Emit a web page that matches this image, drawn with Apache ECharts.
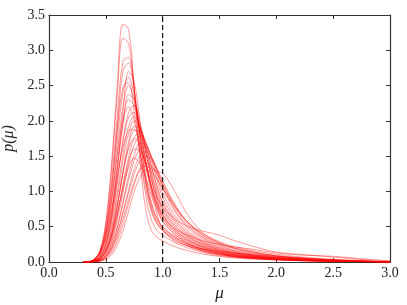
<!DOCTYPE html>
<html><head><meta charset="utf-8">
<script src="https://cdn.jsdelivr.net/npm/echarts@6/dist/echarts.min.js"></script>
<style>html,body{margin:0;padding:0;background:#fff}#c{width:407px;height:305px}</style>
</head><body><div id="c"></div>
<script>
// shared mu grid for all curves
const muGrid = [0.30,0.35,0.40,0.45,0.50,0.55,0.60,0.65,0.70,0.75,0.80,0.85,0.90,0.95,1.00,1.10,1.20,1.30,1.40,1.50,1.60,1.80,2.00,2.20,2.50,2.80,3.00];
const c01 = [0,0.005,0.04,0.17,0.57,1.39,2.50,3.37,3.30,2.45,1.45,0.75,0.45,0.35,0.30,0.22,0.17,0.13,0.10,0.08,0.06,0.04,0.03,0.02,0.01,0.005,0];
const c02 = [0,0.005,0.04,0.16,0.53,1.30,2.35,3.17,3.10,2.45,1.60,0.95,0.60,0.45,0.38,0.28,0.21,0.16,0.12,0.09,0.07,0.05,0.03,0.02,0.01,0.005,0];
const c03 = [0,0.005,0.04,0.16,0.48,1.14,2.05,2.84,2.90,2.46,1.77,1.15,0.75,0.55,0.45,0.33,0.24,0.18,0.13,0.10,0.08,0.05,0.03,0.02,0.01,0.005,0];
const c04 = [0,0.003,0.03,0.13,0.42,1.02,1.90,2.70,2.82,2.42,1.78,1.18,0.78,0.58,0.47,0.35,0.26,0.19,0.14,0.11,0.08,0.05,0.035,0.02,0.01,0.005,0];
const c05 = [0,0.003,0.03,0.12,0.38,0.92,1.70,2.40,2.62,2.35,1.80,1.25,0.85,0.62,0.50,0.37,0.27,0.20,0.15,0.12,0.09,0.06,0.04,0.025,0.012,0.005,0];
const c06 = [0,0.003,0.02,0.07,0.24,0.64,1.32,2.13,2.70,2.55,2.00,1.45,1.02,0.75,0.58,0.40,0.29,0.21,0.16,0.12,0.09,0.06,0.04,0.025,0.012,0.005,0];
const c07 = [0,0.005,0.03,0.11,0.34,0.82,1.55,2.20,2.50,2.30,1.85,1.38,1.00,0.75,0.58,0.40,0.29,0.21,0.16,0.12,0.09,0.06,0.04,0.025,0.012,0.005,0];
const c08 = [0,0.002,0.02,0.08,0.26,0.66,1.30,1.95,2.37,2.30,1.92,1.45,1.06,0.80,0.62,0.43,0.31,0.23,0.17,0.13,0.10,0.065,0.045,0.03,0.015,0.006,0];
const c09 = [0,0.004,0.03,0.10,0.30,0.72,1.35,1.95,2.30,2.22,1.85,1.42,1.06,0.80,0.63,0.44,0.32,0.24,0.18,0.14,0.10,0.07,0.045,0.03,0.015,0.006,0];
const c10 = [0,0.002,0.02,0.07,0.22,0.56,1.12,1.72,2.12,2.22,1.98,1.58,1.18,0.88,0.68,0.47,0.34,0.25,0.19,0.14,0.11,0.07,0.05,0.03,0.015,0.006,0];
const c11 = [0,0.003,0.02,0.08,0.25,0.60,1.15,1.70,2.05,2.12,1.92,1.56,1.20,0.92,0.72,0.50,0.36,0.27,0.20,0.15,0.11,0.075,0.05,0.03,0.015,0.006,0];
const c12 = [0,0.002,0.015,0.06,0.19,0.48,0.98,1.52,1.92,2.06,1.92,1.60,1.25,0.96,0.75,0.52,0.38,0.28,0.21,0.16,0.12,0.08,0.055,0.035,0.018,0.007,0];
const c13 = [0,0.002,0.015,0.055,0.17,0.44,0.90,1.42,1.82,2.00,1.90,1.62,1.28,1.00,0.78,0.54,0.39,0.29,0.22,0.17,0.13,0.085,0.055,0.035,0.018,0.007,0];
const c14 = [0,0.001,0.01,0.045,0.14,0.37,0.78,1.28,1.70,1.92,1.90,1.68,1.36,1.06,0.83,0.57,0.41,0.30,0.23,0.17,0.13,0.085,0.055,0.035,0.018,0.007,0];
const c15 = [0,0.002,0.012,0.05,0.15,0.38,0.78,1.25,1.64,1.86,1.86,1.66,1.36,1.08,0.86,0.60,0.43,0.32,0.24,0.18,0.14,0.09,0.06,0.04,0.02,0.008,0];
const c16 = [0,0.001,0.008,0.035,0.11,0.30,0.64,1.08,1.48,1.76,1.84,1.70,1.44,1.16,0.92,0.63,0.45,0.33,0.25,0.19,0.14,0.09,0.06,0.04,0.02,0.008,0];
const c17 = [0,0.001,0.008,0.03,0.10,0.27,0.58,0.98,1.38,1.66,1.78,1.70,1.48,1.22,0.98,0.68,0.48,0.35,0.26,0.20,0.15,0.10,0.065,0.04,0.02,0.008,0];
const c18 = [0,0.001,0.006,0.025,0.08,0.22,0.48,0.85,1.22,1.52,1.68,1.66,1.50,1.28,1.05,0.74,0.52,0.38,0.28,0.21,0.16,0.10,0.07,0.045,0.022,0.009,0];
const c19 = [0,0.001,0.007,0.028,0.09,0.23,0.48,0.82,1.16,1.44,1.60,1.62,1.50,1.30,1.08,0.76,0.54,0.40,0.30,0.23,0.17,0.11,0.075,0.05,0.025,0.01,0];
const c20 = [0,0.001,0.005,0.02,0.07,0.18,0.40,0.70,1.02,1.32,1.50,1.56,1.48,1.32,1.12,0.80,0.57,0.42,0.31,0.24,0.18,0.12,0.08,0.05,0.025,0.01,0];
const c21 = [0,0.001,0.006,0.024,0.075,0.19,0.40,0.68,0.98,1.25,1.43,1.50,1.45,1.32,1.15,0.84,0.60,0.44,0.33,0.26,0.20,0.13,0.085,0.055,0.03,0.012,0];
const c22 = [0,0.002,0.012,0.05,0.15,0.36,0.68,1.04,1.34,1.47,1.40,1.20,0.95,0.68,0.46,0.30,0.24,0.20,0.17,0.15,0.13,0.10,0.08,0.06,0.03,0.012,0];
const c23 = [0,0.001,0.004,0.018,0.06,0.16,0.34,0.60,0.88,1.14,1.32,1.40,1.36,1.25,1.10,0.82,0.60,0.45,0.34,0.27,0.21,0.14,0.09,0.06,0.03,0.012,0];
const c24 = [0,0.001,0.004,0.015,0.05,0.13,0.29,0.53,0.82,1.10,1.30,1.36,1.32,1.28,1.26,1.02,0.72,0.50,0.36,0.27,0.21,0.14,0.09,0.06,0.03,0.012,0];
const c25 = [0,0,0.002,0.01,0.035,0.10,0.23,0.44,0.72,1.00,1.20,1.30,1.28,1.18,1.04,0.80,0.60,0.46,0.36,0.29,0.23,0.16,0.11,0.075,0.04,0.015,0];
const c26 = [0,0.002,0.012,0.045,0.14,0.34,0.68,1.08,1.42,1.60,1.58,1.40,1.15,0.92,0.78,0.62,0.52,0.46,0.42,0.38,0.32,0.22,0.14,0.11,0.07,0.03,0.01];
const c27 = [0,0.002,0.015,0.05,0.16,0.40,0.80,1.25,1.60,1.75,1.65,1.38,1.08,0.84,0.66,0.48,0.39,0.33,0.28,0.25,0.22,0.18,0.13,0.10,0.08,0.04,0.015];
const c28 = [0,0.006,0.04,0.14,0.40,0.88,1.50,2.02,2.20,2.00,1.58,1.15,0.82,0.62,0.50,0.36,0.27,0.21,0.16,0.12,0.09,0.06,0.04,0.025,0.012,0.005,0];
const c29 = [0,0.005,0.04,0.15,0.45,1.05,1.85,2.48,2.54,2.12,1.55,1.05,0.72,0.54,0.44,0.32,0.24,0.18,0.14,0.11,0.08,0.05,0.035,0.02,0.01,0.005,0];
const c30 = [0,0.006,0.04,0.13,0.35,0.72,1.20,1.62,1.86,1.88,1.68,1.38,1.08,0.84,0.66,0.46,0.34,0.25,0.19,0.15,0.11,0.075,0.05,0.03,0.015,0.006,0];
const curves = [c01,c02,c03,c04,c05,c06,c07,c08,c09,c10,c11,c12,c13,c14,c15,c16,c17,c18,c19,c20,c21,c22,c23,c24,c25,c26,c27,c28,c29,c30];
const refLineX = 1.0;
const xTicks = [0.0,0.5,1.0,1.5,2.0,2.5,3.0];
const yTicks = [0.0,0.5,1.0,1.5,2.0,2.5,3.0,3.5];

const font = 'Liberation Serif';
const series = curves.map(c => ({
  type: 'line', data: muGrid.map((m,i)=>[m,c[i]]), smooth: 0.35, symbol: 'none',
  lineStyle: {color: 'rgba(255,0,0,0.4)', width: 1}, silent: true, animation: false
}));
series.push({
  type: 'line', data: [[refLineX, 0], [refLineX, yTicks[yTicks.length-1]]], symbol: 'none',
  lineStyle: {color: '#000', width: 1.1, type: [5,3]}, silent: true, animation: false, z: 5
});
const axisLine = {show: true, onZero: false, lineStyle: {color: '#333', width: 1.2}};
const axisTick = {show: true, inside: true, length: 4, lineStyle: {color: '#333'}};
const chart = echarts.init(document.getElementById('c'), null, {renderer: 'canvas'});
chart.setOption({
  animation: false,
  grid: {left: 49, right: 17, top: 15, bottom: 43, containLabel: false, outerBoundsMode: 'none'},
  xAxis: [{
    type: 'value', min: xTicks[0], max: xTicks[xTicks.length-1], interval: 0.5,
    axisLine, axisTick, splitLine: {show: false},
    axisLabel: {fontFamily: font, fontSize: 14, color: '#222', margin: 4, formatter: v => v.toFixed(1)},
    name: 'μ', nameLocation: 'middle', nameGap: 17,
    nameTextStyle: {fontFamily: font, fontStyle: 'italic', fontSize: 17, color: '#222'}
  }, {
    type: 'value', position: 'top', min: 0, max: 3, interval: 0.5,
    axisLine, axisTick, axisLabel: {show: false}, splitLine: {show: false}
  }],
  yAxis: [{
    type: 'value', min: yTicks[0], max: yTicks[yTicks.length-1], interval: 0.5,
    axisLine, axisTick, splitLine: {show: false},
    axisLabel: {fontFamily: font, fontSize: 14, color: '#222', margin: 4, formatter: v => v.toFixed(1)},
    name: 'p(μ)', nameLocation: 'middle', nameGap: 24, nameRotate: 90,
    nameTextStyle: {fontFamily: font, fontStyle: 'italic', fontSize: 16, color: '#222'}
  }, {
    type: 'value', position: 'right', min: 0, max: 3.5, interval: 0.5,
    axisLine, axisTick, axisLabel: {show: false}, splitLine: {show: false}
  }],
  series
});
</script>
</body></html>
